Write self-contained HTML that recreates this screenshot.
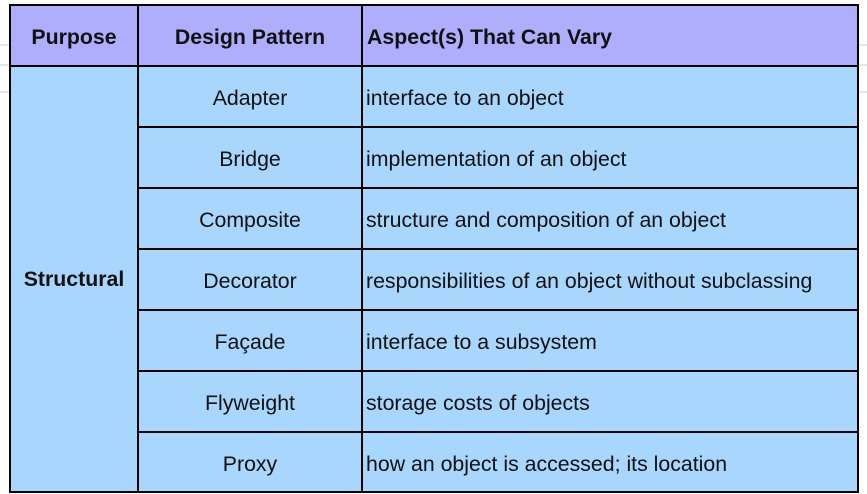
<!DOCTYPE html>
<html><head><meta charset="utf-8"><style>
html,body{margin:0;padding:0;background:#fff;width:867px;height:494px;overflow:hidden}
svg{display:block}
text{font-family:"Liberation Sans",Arial,sans-serif;font-size:21.3px;fill:#111}
.b{font-weight:bold}
</style></head><body>
<svg width="867" height="494" viewBox="0 0 867 494">
<line x1="0" y1="45" x2="10" y2="45" stroke="#ccc"/>
<line x1="0" y1="65" x2="10" y2="65" stroke="#ccc"/>
<line x1="0" y1="92" x2="10" y2="92" stroke="#ccc"/>
<line x1="858" y1="45" x2="867" y2="45" stroke="#ccc"/>
<line x1="858" y1="65" x2="867" y2="65" stroke="#ccc"/>
<line x1="858" y1="92" x2="867" y2="92" stroke="#ccc"/>
<rect x="10" y="5" width="848" height="61" fill="#aeaefc"/>
<rect x="10" y="66" width="848" height="426" fill="#a8d6fc"/>
<g stroke="#000" stroke-width="2" fill="none">
<rect x="10" y="5" width="848" height="487"/>
<line x1="10" y1="66" x2="858" y2="66"/>
<line x1="138" y1="5" x2="138" y2="492"/>
<line x1="362" y1="5" x2="362" y2="492"/>
<line x1="138" y1="127" x2="858" y2="127"/>
<line x1="138" y1="188" x2="858" y2="188"/>
<line x1="138" y1="249" x2="858" y2="249"/>
<line x1="138" y1="310" x2="858" y2="310"/>
<line x1="138" y1="371" x2="858" y2="371"/>
<line x1="138" y1="432" x2="858" y2="432"/>
</g>
<text class="b" x="74" y="44" text-anchor="middle">Purpose</text>
<text class="b" x="250" y="44" text-anchor="middle">Design Pattern</text>
<text class="b" x="367" y="44">Aspect(s) That Can Vary</text>
<text class="b" x="74" y="286" text-anchor="middle">Structural</text>
<g text-anchor="middle">
<text x="250" y="105">Adapter</text>
<text x="250" y="166">Bridge</text>
<text x="250" y="227">Composite</text>
<text x="250" y="288">Decorator</text>
<text x="250" y="349">Façade</text>
<text x="250" y="410">Flyweight</text>
<text x="250" y="471">Proxy</text>
</g>
<text x="366" y="105">interface to an object</text>
<text x="366" y="166">implementation of an object</text>
<text x="366" y="227">structure and composition of an object</text>
<text x="366" y="288">responsibilities of an object without subclassing</text>
<text x="366" y="349">interface to a subsystem</text>
<text x="366" y="410">storage costs of objects</text>
<text x="366" y="471">how an object is accessed; its location</text>
</svg>
</body></html>
